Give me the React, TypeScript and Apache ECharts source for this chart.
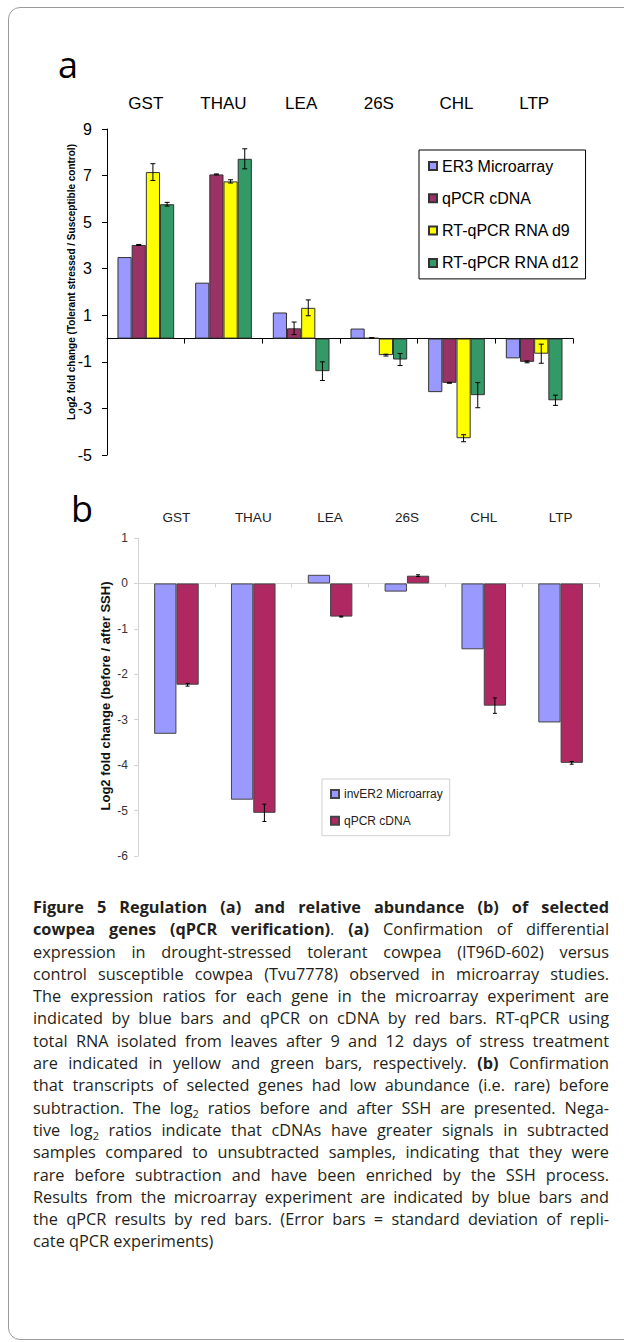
import React, { useEffect, useRef } from "react";
import * as echarts from "echarts";

// ---------- data ----------
const genes = ["GST", "THAU", "LEA", "26S", "CHL", "LTP"];

// panel a
const aNames = ["ER3 Microarray", "qPCR cDNA", "RT-qPCR RNA d9", "RT-qPCR RNA d12"];
const aMicro = [3.5, 2.4, 1.12, 0.43, -2.3, -0.85];
const aQpcr = [4.02, 7.05, 0.44, 0.03, -1.9, -1.0];
const aQpcrErr = [0.02, 0.02, 0.27, 0.01, 0.02, 0.04];
const aD9 = [7.15, 6.75, 1.32, -0.71, -4.28, -0.65];
const aD9Err = [0.36, 0.07, 0.34, 0.04, 0.15, 0.41];
const aD12 = [5.77, 7.72, -1.4, -0.9, -2.43, -2.65];
const aD12Err = [0.08, 0.43, 0.4, 0.26, 0.54, 0.22];

// panel b
const bNames = ["invER2 Microarray", "qPCR cDNA "];
const bMicro = [-3.31, -4.76, 0.19, -0.18, -1.45, -3.06];
const bQpcr = [-2.23, -5.05, -0.73, 0.17, -2.69, -3.95];
const bQpcrErr = [0.03, 0.19, 0.01, 0.02, 0.17, 0.03];

const aColors = ["#9999FF", "#993366", "#FFFF00", "#339966"];
const bColors = ["#9999FF", "#B02862"];

const FONT = "Arial, Liberation Sans, sans-serif";

type Seg = { t: string; b?: boolean; sub?: boolean };
const captionLines: Seg[][] = [
  [{ t: "Figure 5 Regulation (a) and relative abundance (b) of selected", b: true }],
  [
    { t: "cowpea genes (qPCR verification)", b: true },
    { t: ". " },
    { t: "(a)", b: true },
    { t: " Confirmation of differential" },
  ],
  [{ t: "expression in drought-stressed tolerant cowpea (IT96D-602) versus" }],
  [{ t: "control susceptible cowpea (Tvu7778) observed in microarray studies." }],
  [{ t: "The expression ratios for each gene in the microarray experiment are" }],
  [{ t: "indicated by blue bars and qPCR on cDNA by red bars. RT-qPCR using" }],
  [{ t: "total RNA isolated from leaves after 9 and 12 days of stress treatment" }],
  [
    { t: "are indicated in yellow and green bars, respectively. " },
    { t: "(b)", b: true },
    { t: " Confirmation" },
  ],
  [{ t: "that transcripts of selected genes had low abundance (i.e. rare) before" }],
  [
    { t: "subtraction. The log" },
    { t: "2", sub: true },
    { t: " ratios before and after SSH are presented. Nega-" },
  ],
  [
    { t: "tive log" },
    { t: "2", sub: true },
    { t: " ratios indicate that cDNAs have greater signals in subtracted" },
  ],
  [{ t: "samples compared to unsubtracted samples, indicating that they were" }],
  [{ t: "rare before subtraction and have been enriched by the SSH process." }],
  [{ t: "Results from the microarray experiment are indicated by blue bars and" }],
  [{ t: "the qPCR results by red bars. (Error bars = standard deviation of repli-" }],
  [{ t: "cate qPCR experiments)" }],
];

function barSeries(name: string, data: number[], color: string, xi: number, yi: number, gap: string, border: string) {
  return {
    type: "bar",
    name,
    data,
    xAxisIndex: xi,
    yAxisIndex: yi,
    barGap: "0%",
    barCategoryGap: gap,
    itemStyle: { color, borderColor: border, borderWidth: 1 },
    emphasis: { disabled: true },
  };
}

function errSeries(
  values: number[],
  errs: number[],
  idx: number,
  n: number,
  gapFrac: number,
  xi: number,
  yi: number,
  cap: number
) {
  return {
    type: "custom",
    xAxisIndex: xi,
    yAxisIndex: yi,
    z: 5,
    silent: true,
    data: values.map((v, i) => [i, v, errs[i]]),
    renderItem: (_p: any, api: any) => {
      const i = api.value(0);
      const v = api.value(1);
      const e = api.value(2);
      const band = api.size([1, 0])[0];
      const bw = (band * (1 - gapFrac)) / n;
      const off = (idx - (n - 1) / 2) * bw;
      const top = api.coord([i, v + e]);
      const bot = api.coord([i, v - e]);
      const x = top[0] + off;
      const st = { stroke: "#000", lineWidth: 1 };
      return {
        type: "group",
        children: [
          { type: "line", shape: { x1: x, y1: top[1], x2: x, y2: bot[1] }, style: st },
          { type: "line", shape: { x1: x - cap, y1: top[1], x2: x + cap, y2: top[1] }, style: st },
          { type: "line", shape: { x1: x - cap, y1: bot[1], x2: x + cap, y2: bot[1] }, style: st },
        ],
      };
    },
  };
}

export default function App() {
  const ref = useRef<HTMLDivElement>(null);

  useEffect(() => {
    const chart = echarts.init(ref.current!, null, { renderer: "svg" });
    const option: any = {
      animation: false,
      textStyle: { fontFamily: FONT },
      grid: [
        { left: 107, top: 129, width: 466, height: 326 },
        { left: 138, top: 538, width: 461, height: 318 },
      ],
      xAxis: [
        {
          type: "category",
          gridIndex: 0,
          data: genes,
          position: "bottom",
          axisLine: { onZero: true, lineStyle: { color: "#000", width: 1 } },
          axisTick: { show: true, length: 5, lineStyle: { color: "#000" } },
          axisLabel: { show: false },
          splitLine: { show: false },
        },
        {
          type: "category",
          gridIndex: 0,
          data: genes,
          position: "top",
          axisLine: { show: false, onZero: false },
          axisTick: { show: false },
          axisLabel: { margin: 17.5, fontSize: 17, color: "#000", fontFamily: FONT },
          splitLine: { show: false },
        },
        {
          type: "category",
          gridIndex: 1,
          data: genes,
          position: "bottom",
          axisLine: { onZero: true, lineStyle: { color: "#d4d4d4", width: 1 } },
          axisTick: { show: true, length: 4, lineStyle: { color: "#d4d4d4" } },
          axisLabel: { show: false },
          splitLine: { show: false },
        },
        {
          type: "category",
          gridIndex: 1,
          data: genes,
          position: "top",
          axisLine: { show: false, onZero: false },
          axisTick: { show: false },
          axisLabel: { margin: 14, fontSize: 13.5, color: "#222", fontFamily: FONT },
          splitLine: { show: false },
        },
      ],
      yAxis: [
        {
          type: "value",
          gridIndex: 0,
          min: -5,
          max: 9,
          interval: 2,
          axisLine: { show: true, onZero: false, lineStyle: { color: "#000" } },
          axisTick: { show: true, length: 5, lineStyle: { color: "#000" } },
          axisLabel: { fontSize: 16, color: "#000", margin: 15, fontFamily: FONT },
          splitLine: { show: false },
        },
        {
          type: "value",
          gridIndex: 1,
          min: -6,
          max: 1,
          interval: 1,
          axisLine: { show: true, onZero: false, lineStyle: { color: "#d4d4d4" } },
          axisTick: { show: true, length: 4, lineStyle: { color: "#d4d4d4" } },
          axisLabel: { fontSize: 12, color: "#333", margin: 10, fontFamily: FONT },
          splitLine: { show: false },
        },
      ],
      legend: [
        {
          left: 419,
          top: 150,
          orient: "vertical",
          data: aNames,
          icon: "rect",
          itemWidth: 8,
          itemHeight: 8,
          itemGap: 16.3,
          padding: [8, 6, 8, 9],
          backgroundColor: "#fff",
          borderColor: "#000",
          borderWidth: 1,
          selectedMode: false,
          textStyle: { fontFamily: FONT, fontSize: 16, color: "#000" },
        },
        {
          left: 322,
          top: 779,
          orient: "vertical",
          data: bNames,
          icon: "rect",
          itemWidth: 8,
          itemHeight: 8,
          itemGap: 14.7,
          padding: [9, 7, 9, 8],
          backgroundColor: "#fff",
          borderColor: "#d0d0d0",
          borderWidth: 1,
          selectedMode: false,
          formatter: (name: string) => name.trim(),
          textStyle: { fontFamily: FONT, fontSize: 12, color: "#222" },
        },
      ],
      series: [
        barSeries(aNames[0], aMicro, aColors[0], 0, 0, "27%", "#333"),
        barSeries(aNames[1], aQpcr, aColors[1], 0, 0, "27%", "#333"),
        barSeries(aNames[2], aD9, aColors[2], 0, 0, "27%", "#333"),
        barSeries(aNames[3], aD12, aColors[3], 0, 0, "27%", "#333"),
        errSeries(aQpcr, aQpcrErr, 1, 4, 0.27, 0, 0, 2.5),
        errSeries(aD9, aD9Err, 2, 4, 0.27, 0, 0, 2.5),
        errSeries(aD12, aD12Err, 3, 4, 0.27, 0, 0, 2.5),
        barSeries(bNames[0], bMicro, bColors[0], 2, 1, "42%", "#444"),
        barSeries(bNames[1], bQpcr, bColors[1], 2, 1, "42%", "#444"),
        errSeries(bQpcr, bQpcrErr, 1, 2, 0.42, 2, 1, 2),
      ],
      graphic: [
        {
          type: "text",
          x: 58,
          y: 64,
          style: {
            text: "a",
            font: "36px Open Sans, sans-serif",
            fill: "#000",
            textAlign: "left",
            align: "left",
            textVerticalAlign: "middle",
            verticalAlign: "middle",
          },
        },
        {
          type: "text",
          x: 71,
          y: 508,
          style: {
            text: "b",
            font: "36px Open Sans, sans-serif",
            fill: "#000",
            textAlign: "left",
            align: "left",
            textVerticalAlign: "middle",
            verticalAlign: "middle",
          },
        },
        {
          type: "text",
          x: 71,
          y: 282,
          rotation: Math.PI / 2,
          style: {
            text: "Log2 fold change (Tolerant stressed / Susceptible control)",
            font: "bold 10px Arial, Liberation Sans, sans-serif",
            fill: "#000",
            textAlign: "center",
            align: "center",
            textVerticalAlign: "middle",
            verticalAlign: "middle",
          },
        },
        {
          type: "text",
          x: 105,
          y: 696,
          rotation: Math.PI / 2,
          style: {
            text: "Log2 fold change (before / after SSH)",
            font: "bold 13px Arial, Liberation Sans, sans-serif",
            fill: "#111",
            textAlign: "center",
            align: "center",
            textVerticalAlign: "middle",
            verticalAlign: "middle",
          },
        },
      ],
    };
    chart.setOption(option);
    return () => chart.dispose();
  }, []);

  return (
    <div
      style={{
        position: "absolute",
        left: 0,
        top: 0,
        width: 624,
        height: 1342,
        background: "#fff",
        overflow: "hidden",
      }}
    >
      <div
        style={{
          position: "absolute",
          left: 8,
          top: 7,
          width: 680,
          height: 1331,
          border: "1.5px solid #9a9a9a",
          borderRadius: 12,
        }}
      />
      <div ref={ref} style={{ position: "absolute", left: 0, top: 0, width: 624, height: 880 }} />
      <div
        style={{
          position: "absolute",
          left: 33,
          top: 896,
          width: 576,
          fontFamily: "Open Sans, sans-serif",
          fontSize: 16.3,
          lineHeight: "22.3px",
          color: "#231f20",
        }}
      >
        {captionLines.map((line, li) => (
          <div
            key={li}
            style={{
              textAlign: li === captionLines.length - 1 ? "left" : "justify",
              textAlignLast: li === captionLines.length - 1 ? "left" : "justify",
              whiteSpace: "nowrap",
              height: "22.3px",
            } as any}
          >
            {line.map((s, si) =>
              s.sub ? (
                <span key={si} style={{ fontSize: 11, position: "relative", top: 4, lineHeight: 0 }}>
                  {s.t}
                </span>
              ) : (
                <span key={si} style={{ fontWeight: s.b ? 700 : 400 }}>
                  {s.t}
                </span>
              )
            )}
          </div>
        ))}
      </div>
    </div>
  );
}
